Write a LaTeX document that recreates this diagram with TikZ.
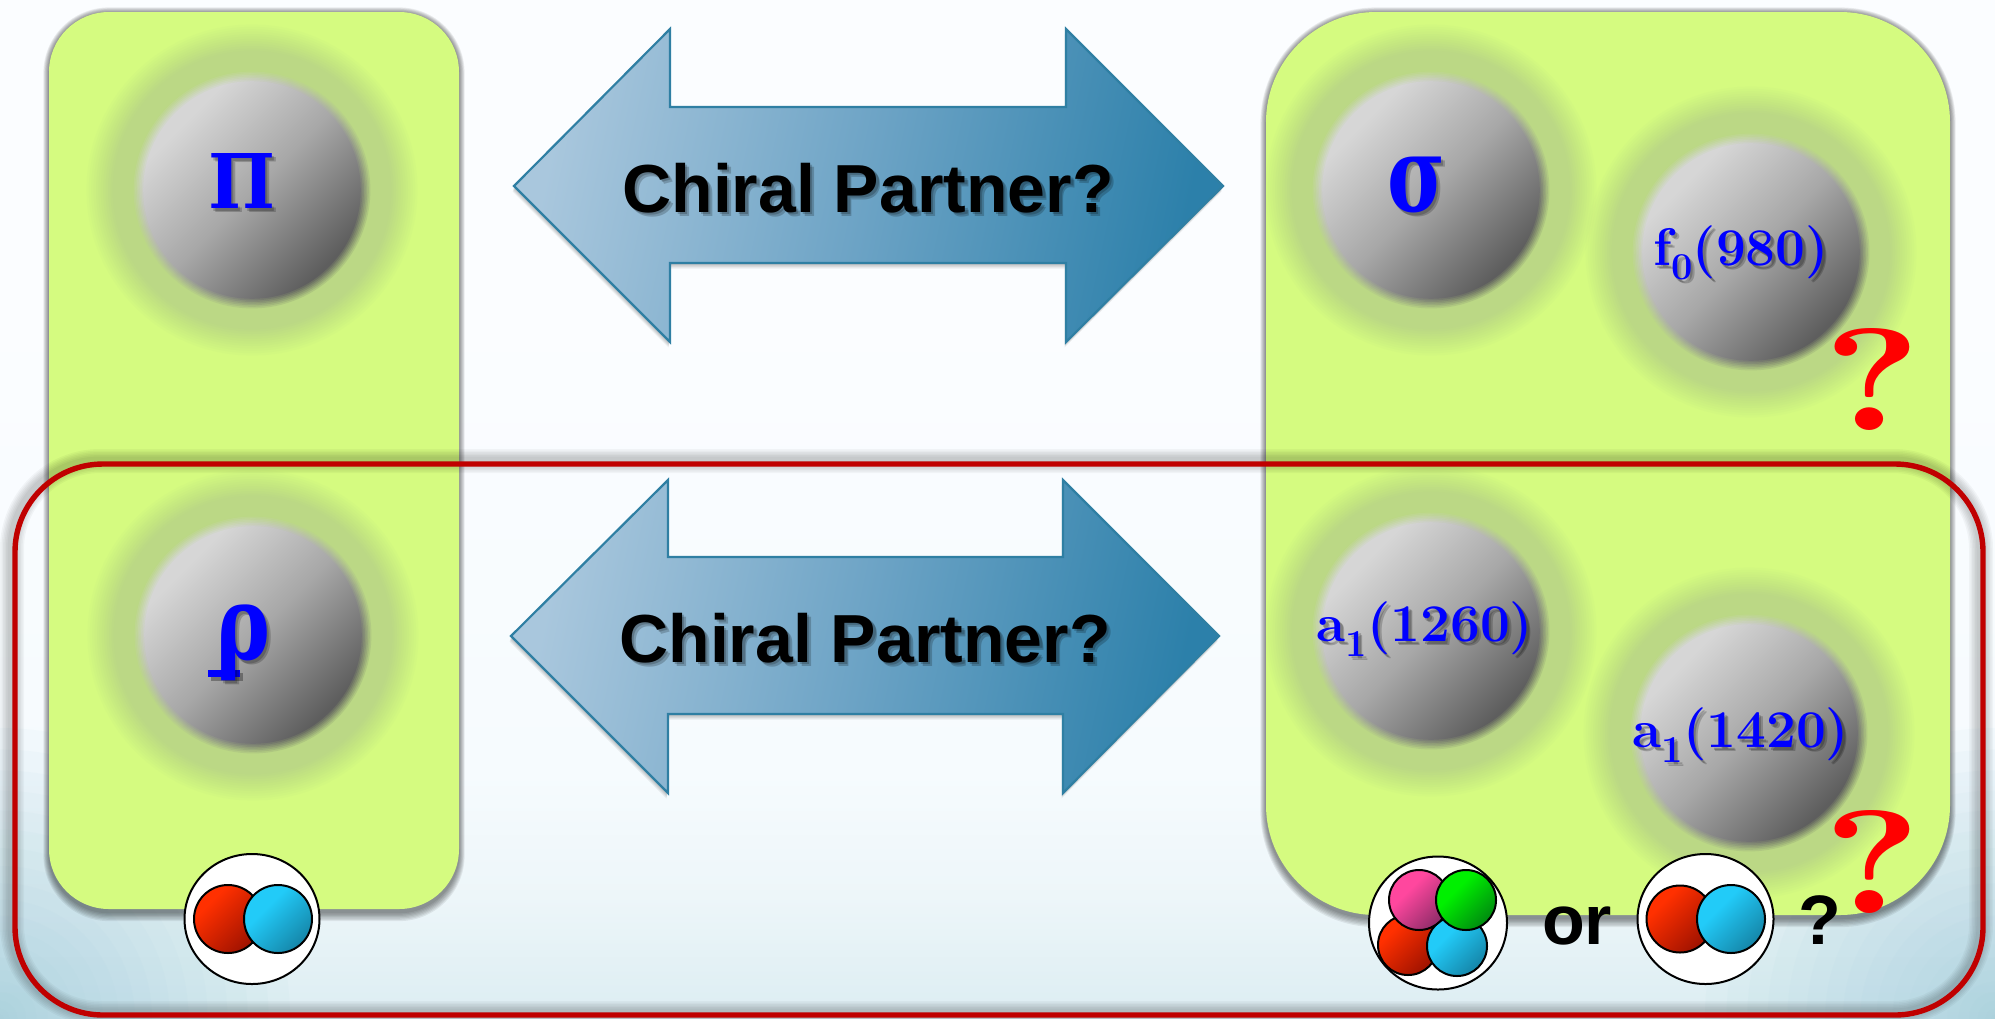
\documentclass[tikz,border=0pt]{standalone}
\usepackage{fontspec}
\usepackage{graphicx}
\usetikzlibrary{calc}
\newfontfamily\sansface{Liberation Sans}
\newfontfamily\greekface{DejaVu Serif}

% colours
\definecolor{panelgreen}{HTML}{D5FB80}
\definecolor{halogreen}{HTML}{BBD885}
\definecolor{framered}{HTML}{C00000}
\definecolor{arrowedge}{HTML}{2F7FA3}
\definecolor{arrowlight}{HTML}{A9C7DD}
\definecolor{arrowmid}{HTML}{6CA3C5}
\definecolor{arrowdark}{HTML}{2C80AA}
\definecolor{cornerblue}{HTML}{9CCBDB}

% page background
\definecolor{bgA}{HTML}{DCEDF2}
\definecolor{bgB}{HTML}{EDF6F9}
\definecolor{bgC}{HTML}{F6FBFE}
\definecolor{bgD}{HTML}{FBFDFF}
\pgfdeclareverticalshading{pagebg}{100bp}{
  color(0bp)=(bgA); color(25bp)=(bgA); color(31bp)=(bgB); color(37bp)=(bgC); color(60bp)=(bgD); color(100bp)=(bgD)}

% sphere body, lit from the upper left
\definecolor{ballA}{HTML}{D6D6D6}
\definecolor{ballB}{HTML}{A8A8A8}
\definecolor{ballC}{HTML}{5E5E5E}
\pgfdeclarehorizontalshading{spherebody}{100bp}{
  color(0bp)=(ballA); color(30bp)=(ballA); color(50bp)=(ballB); color(72bp)=(ballC); color(100bp)=(ballC)}

\definecolor{rA}{HTML}{FF3000}\definecolor{rB}{HTML}{9E1200}
\definecolor{bA}{HTML}{22CBF8}\definecolor{bB}{HTML}{1585A8}
\definecolor{pA}{HTML}{FF479E}\definecolor{pB}{HTML}{8E2C68}
\definecolor{gA}{HTML}{00F000}\definecolor{gB}{HTML}{008A10}
\pgfdeclareverticalshading{redquark}{100bp}{color(0bp)=(rA); color(32bp)=(rA); color(75bp)=(rB); color(100bp)=(rB)}
\pgfdeclareverticalshading{bluequark}{100bp}{color(0bp)=(bA); color(38bp)=(bA); color(75bp)=(bB); color(100bp)=(bB)}
\pgfdeclareverticalshading{pinkquark}{100bp}{color(0bp)=(pA); color(38bp)=(pA); color(75bp)=(pB); color(100bp)=(pB)}
\pgfdeclareverticalshading{greenquark}{100bp}{color(0bp)=(gA); color(38bp)=(gA); color(75bp)=(gB); color(100bp)=(gB)}

\tikzset{
  arrowbody/.style={draw=arrowedge,line width=1.1pt,line join=miter,left color=arrowlight,right color=arrowdark,middle color=arrowmid,shading angle=78},
  quarkred/.style={draw=black,line width=1pt,shading=redquark,shading angle=-135},
  quarkblue/.style={draw=black,line width=1pt,shading=bluequark,shading angle=-135},
  quarkpink/.style={draw=black,line width=1pt,shading=pinkquark,shading angle=-135},
  quarkgreen/.style={draw=black,line width=1pt,shading=greenquark,shading angle=-135},
  bagwhite/.style={draw=black,line width=1pt,fill=white},
  softshadow/.style={inner sep=0pt,text=black,opacity=.2},
  plainlabel/.style={inner sep=0pt},
}

% green panel with a soft drop shadow: x0,y0,x1,y1,corner radius in pt
\newcommand{\greenpanel}[5]{%
  \foreach \g in {1,...,7}{
    \fill[black,opacity=.07,rounded corners={(#5+\g*0.4)*1pt}]
      ({#1-\g*0.8},{#2+1-\g*0.8}) rectangle ({#3+\g*0.8},{#4+3+\g*1.3});
  }
  \fill[panelgreen,rounded corners=#5pt] (#1,#2) rectangle (#3,#4);
}
% sphere with surrounding halo; both edges are built from stacked translucent layers
\newcommand{\sphere}[3]{%
  \coordinate (#1) at (#2,#3);
  \foreach \k in {1,...,12}{
    \pgfmathsetmacro{\layer}{1/(13-\k)}
    \fill[halogreen,opacity=\layer] (#1) circle[radius={168-\k*2.4}];
  }
  \foreach \k in {1,...,7}{
    \pgfmathsetmacro{\layer}{1/(8-\k)}
    \begin{scope}
      \clip (#1) circle[radius={120-\k*1.6}];
      \shade[shading=spherebody,shading angle=-45,opacity=\layer]
        ($(#1)+(-120,-120)$) rectangle ($(#1)+(120,120)$);
    \end{scope}
  }
}
% text with a small cast shadow: name, x, y, colour, content
\newcommand{\castlabel}[5]{%
  \node[softshadow] (#1s1) at ($(#2,#3)+(4,4)$) {#5};
  \node[softshadow] (#1s2) at ($(#2,#3)+(2.5,2.5)$) {#5};
  \node[plainlabel,text=#4] (#1) at (#2,#3) {#5};
}
\newcommand{\mesonfont}{\fontsize{26.5}{30}\selectfont\bfseries}
\newcommand{\lowidx}[1]{\raisebox{-.27em}{\fontsize{19}{19}\selectfont #1}}
\newcommand{\titlefont}{\sansface\bfseries\fontsize{34}{40}\selectfont}
\newcommand{\arrowupper}{(514,186) -- (670,29) -- (670,107) -- (1066,107) -- (1066,29) -- (1223,186)
     -- (1066,342) -- (1066,263) -- (670,263) -- (670,342) -- cycle}
\newcommand{\arrowlower}{(511,636) -- (668,480) -- (668,557) -- (1063,557) -- (1063,480) -- (1219,636)
     -- (1063,793) -- (1063,714) -- (668,714) -- (668,793) -- cycle}

\begin{document}
\begin{tikzpicture}[x=0.5pt,y=-0.5pt]
  \clip (0,0) rectangle (1995,1018);

  % page background with bluish lower corners
  \shade[shading=pagebg] (0,0) rectangle (1995,1018);
  \foreach \k in {0,...,19}{
    \pgfmathsetmacro{\rad}{290*pow(1-\k/20,1.5)}
    \fill[cornerblue,opacity=.05] (0,1018) circle[radius=\rad];
    \fill[cornerblue,opacity=.05] (1995,1018) circle[radius=\rad];
  }

  % panels
  \greenpanel{49}{12}{459}{909}{30}
  \greenpanel{1266}{12}{1950}{915}{55}

  % spheres
  \sphere{pi}{252}{190}
  \sphere{rho}{253}{635}
  \sphere{sig}{1431}{190}
  \sphere{fz}{1751}{252}
  \sphere{aa}{1431}{631}
  \sphere{ab}{1749}{733}

  % double arrows
  \foreach \g in {1,...,5}{
    \begin{scope}[shift={({-\g*0.3},{\g*1.1})}]
      \fill[black,opacity=.06] \arrowupper;
      \fill[black,opacity=.06] \arrowlower;
    \end{scope}
  }
  \shade[arrowbody] \arrowupper;
  \shade[arrowbody] \arrowlower;

  % arrow captions
  \castlabel{capa}{868}{188}{black}{\titlefont Chiral Partner?}
  \castlabel{capb}{865}{638}{black}{\titlefont Chiral Partner?}

  % sphere labels
  \castlabel{lpi}{242}{181}{blue}{\resizebox*{33.5pt}{27.5pt}{\greekface\bfseries Π}}
  \castlabel{lsig}{1416}{185}{blue}{\resizebox*{29pt}{28pt}{\greekface\bfseries σ}}
  \fill[black,opacity=.3] (211,673) rectangle (243,681);
  \fill[blue] (208,670) rectangle (240,677);
  \castlabel{lrho}{243}{643}{blue}{\resizebox*{27pt}{38pt}{\greekface\bfseries ρ}}
  \castlabel{lfz}{1741}{253}{blue}{\mesonfont f\lowidx{0}(980)}
  \castlabel{laa}{1425}{629}{blue}{\mesonfont a\lowidx{1}(1260)}
  \castlabel{lab}{1741}{735}{blue}{\mesonfont a\lowidx{1}(1420)}

  % red query marks
  \node[plainlabel,text=red] (qa) at (1872,379) {\resizebox{49pt}{51pt}{\bfseries ?}};
  \node[plainlabel,text=red] (qb) at (1872,862) {\resizebox{49pt}{51.5pt}{\bfseries ?}};

  % frame with its shadow
  \foreach \g in {1,...,6}{
    \draw[black,opacity=.035,line width={(3+\g*1.5)*1pt},rounded corners=44pt]
      (12,461) rectangle (1981,1013);
  }
  \draw[framered,line width=2.7pt,rounded corners=44pt] (15,464) rectangle (1983,1015);

  % quark pair on the left
  \draw[bagwhite] (252,919) ellipse[x radius=67.5,y radius=65];
  \shade[quarkred] (228,919) circle[radius=34];
  \shade[quarkblue] (278,919) circle[radius=34];

  % four-quark cluster on the right
  \draw[bagwhite] (1438,923) ellipse[x radius=69,y radius=66.5];
  \shade[quarkred] (1408,945) circle[radius=30];
  \shade[quarkblue] (1457,946) circle[radius=30];
  \shade[quarkpink] (1419,900) circle[radius=30];
  \shade[quarkgreen] (1466,900) circle[radius=30];

  % quark pair on the right
  \draw[bagwhite] (1705.5,919) ellipse[x radius=68,y radius=65];
  \shade[quarkred] (1680,919) circle[radius=33.5];
  \shade[quarkblue] (1731,919) circle[radius=34];

  % words between the clusters
  \node[plainlabel] (orword) at (1577,926) {\sansface\bfseries\fontsize{35}{40}\selectfont or};
  \node[plainlabel] (qc) at (1820,920) {\sansface\bfseries\fontsize{35}{40}\selectfont ?};
\end{tikzpicture}
\end{document}
